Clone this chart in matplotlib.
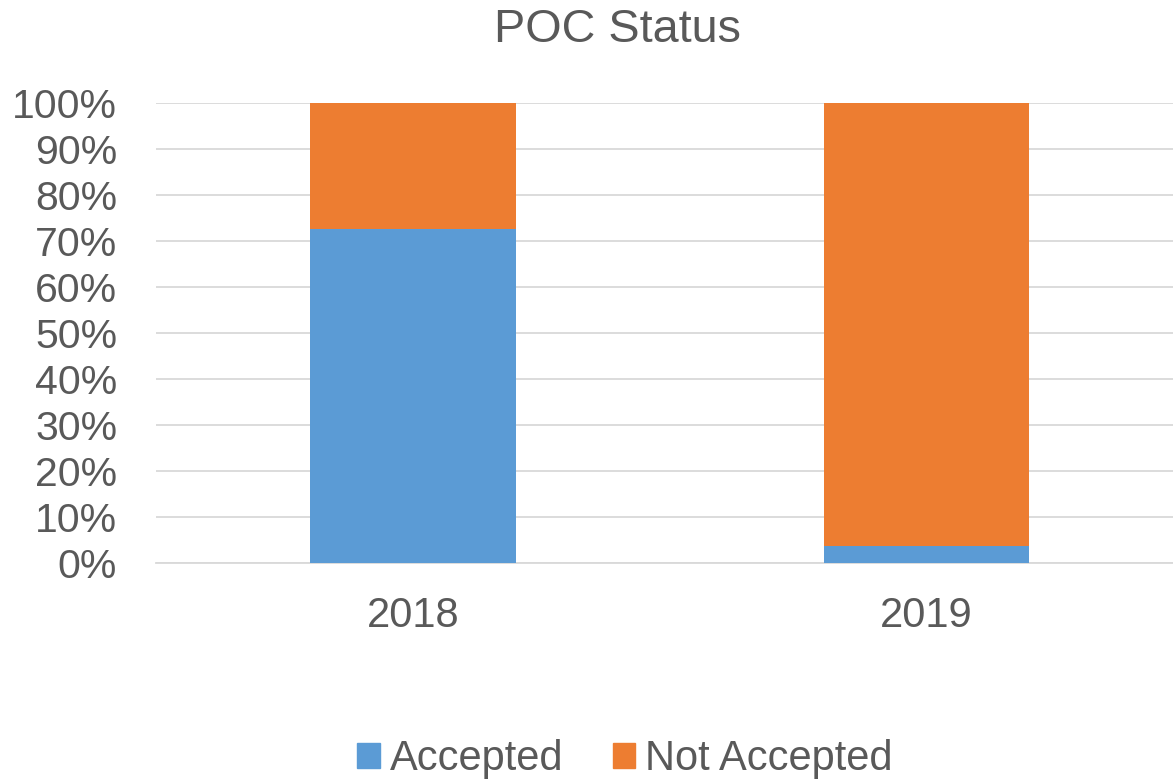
import matplotlib.pyplot as plt
from matplotlib.patches import Patch
from matplotlib.ticker import PercentFormatter

years = ['2018', '2019']
accepted = [72.7, 3.8]
not_accepted = [27.3, 96.2]

blue = '#5B9BD5'
orange = '#ED7D31'
grey_text = '#595959'

plt.rcParams['font.family'] = ['Liberation Sans', 'DejaVu Sans']

fig = plt.figure(figsize=(11.73, 7.81), dpi=100)
ax = fig.add_axes([156 / 1173, 1 - 563 / 781, 1 - 156 / 1173, (563 - 103) / 781])

x = range(len(years))
ax.bar(x, accepted, width=0.4, color=blue, zorder=3)
ax.bar(x, not_accepted, width=0.4, bottom=accepted, color=orange, zorder=3)

ax.set_ylim(0, 100)
ax.set_xlim(-0.501, 1.481)
ax.set_yticks(range(0, 101, 10))
ax.yaxis.set_major_formatter(PercentFormatter(decimals=0))
ax.set_xticks(list(x))
ax.set_xticklabels(years)
ax.grid(axis='y', color='#D9D9D9', linewidth=1.3, zorder=0)
ax.tick_params(length=0, labelsize=30, colors=grey_text)
ax.tick_params(axis='y', labelsize=29.5, pad=28)
ax.tick_params(axis='x', pad=24)
for s in ['top', 'right', 'left']:
    ax.spines[s].set_visible(False)
ax.spines['bottom'].set_color('#D9D9D9')
ax.spines['bottom'].set_linewidth(1.3)

fig.text(617 / 1173, 1 - 30 / 781, 'POC Status', ha='center', va='center',
         fontsize=33.7, color=grey_text)

handles = [Patch(color=blue, label='Accepted'), Patch(color=orange, label='Not Accepted')]
fig.legend(handles=handles, loc='center', bbox_to_anchor=(625 / 1173, 1 - 759 / 781),
           ncol=2, frameon=False, fontsize=30, labelcolor=grey_text,
           handlelength=0.53, handleheight=0.53, handletextpad=0.24, columnspacing=1.2)

fig.savefig('out.png', dpi=100)
